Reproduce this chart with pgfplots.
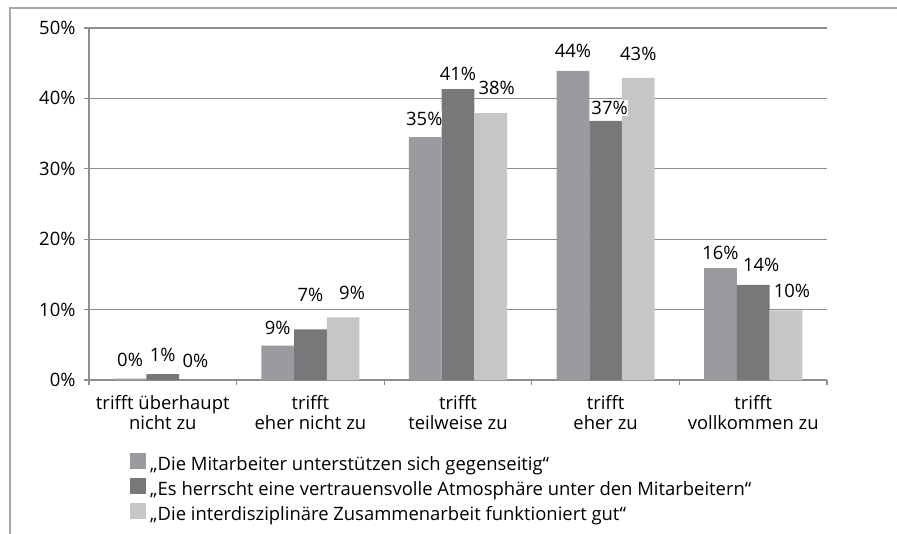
\documentclass[border=0pt]{standalone}
\usepackage{pgfplots}
\usepackage{pgfplotstable}
\pgfplotsset{compat=1.18}
\usepackage{fontspec}
\setmainfont{Open Sans}
\definecolor{sA}{HTML}{9A9B9E}
\definecolor{sB}{HTML}{77787A}
\definecolor{sC}{HTML}{C5C6C7}
\definecolor{gridc}{HTML}{8E8E8E}
\definecolor{framec}{HTML}{A8A8A8}
\pgfplotstableread{
x y lab dx dy
0 0.2 0 0 19
1 4.9 9 0 18
2 34.5 35 -1 18
3 43.9 44 0 20
4 15.9 16 0 15
}\sA
\pgfplotstableread{
x y lab dx dy
0 0.85 1 0 19
1 7.2 7 0 34
2 41.3 41 0 15
3 36.8 37 4 13
4 13.5 14 8 20
}\sB
\pgfplotstableread{
x y lab dx dy
0 0 0 0 19
1 8.9 9 9 24
2 37.9 38 6 25
3 42.9 43 0 24
4 9.9 10 6 19
}\sC
\begin{document}
\begin{tikzpicture}
\path[use as bounding box] (-89bp,-154bp) rectangle (808bp,380bp);
\begin{axis}[
  scale only axis, width=738bp, height=352bp,
  ymin=0, ymax=50, xmin=-0.5, xmax=4.5,
  ybar=0pt, bar width=32.7bp,
  /pgf/number format/assume math mode=true,
  ytick={0,10,...,50},
  yticklabel={\pgfmathprintnumber{\tick}\%},
  xtick={0,...,4},
  xticklabels={{trifft überhaupt\\nicht zu},{trifft\\eher nicht zu},{trifft\\teilweise zu},{trifft\\eher zu},{trifft\\vollkommen zu}},
  xticklabel style={align=center, font=\fontsize{18.5}{20}\selectfont, yshift=-7bp},
  yticklabel style={font=\fontsize{18.5}{20}\selectfont, xshift=-5bp},
  minor xtick={-0.5,0.5,1.5,2.5,3.5,4.5},
  major x tick style={draw=none},
  tick align=outside, major tick length=5bp, minor tick length=5bp,
  tick style={gridc, line width=1.1bp},
  ymajorgrids, grid style={gridc, line width=1.1bp},
  axis x line*=bottom, axis y line*=left,
  axis line style={gridc, line width=1.2bp},
  legend style={at={(axis description cs:0.0556,-0.206)}, anchor=north west, draw=none, fill=none, inner sep=0pt,
    font=\fontsize{18.5}{20}\selectfont, row sep=0pt,
    nodes={text height=13bp, text depth=4bp, inner ysep=3.5bp, inner xsep=4bp}},
  legend cell align=left,
  legend image code/.code={\path[#1,draw=none] (0bp,-3bp) rectangle (16bp,13bp);},
  lbl/.style={draw=none, fill=none, forget plot,
    visualization depends on={\thisrow{dx} \as \dx},
    visualization depends on={\thisrow{dy} \as \dy},
    nodes near coords={\pgfplotspointmeta\%},
    every node near coord/.append style={font=\fontsize{18.5}{20}\selectfont, anchor=center, fill=white, inner xsep=0bp, inner ysep=1bp, xshift=\dx bp, yshift=\dy bp}},
]
\addplot[fill=sA, draw=none, bar shift=-32.7bp] table[x=x, y=y] {\sA};
\addplot[fill=sB, draw=none, bar shift=0bp] table[x=x, y=y] {\sB};
\addplot[fill=sC, draw=none, bar shift=32.7bp] table[x=x, y=y] {\sC};
\addlegendentry{„Die Mitarbeiter unterstützen sich gegenseitig“}
\addlegendentry{„Es herrscht eine vertrauensvolle Atmosphäre unter den Mitarbeitern“}
\addlegendentry{„Die interdisziplinäre Zusammenarbeit funktioniert gut“}
\addplot[lbl, bar shift=-32.7bp] table[x=x, y=y, meta=lab, point meta=explicit symbolic] {\sA};
\addplot[lbl, bar shift=0bp] table[x=x, y=y, meta=lab, point meta=explicit symbolic] {\sB};
\addplot[lbl, bar shift=32.7bp] table[x=x, y=y, meta=lab, point meta=explicit symbolic] {\sC};
\end{axis}
\draw[framec, line width=1.3bp] (-79bp,-154bp) -- (-79bp,372bp) -- (808bp,372bp);
\end{tikzpicture}
\end{document}
